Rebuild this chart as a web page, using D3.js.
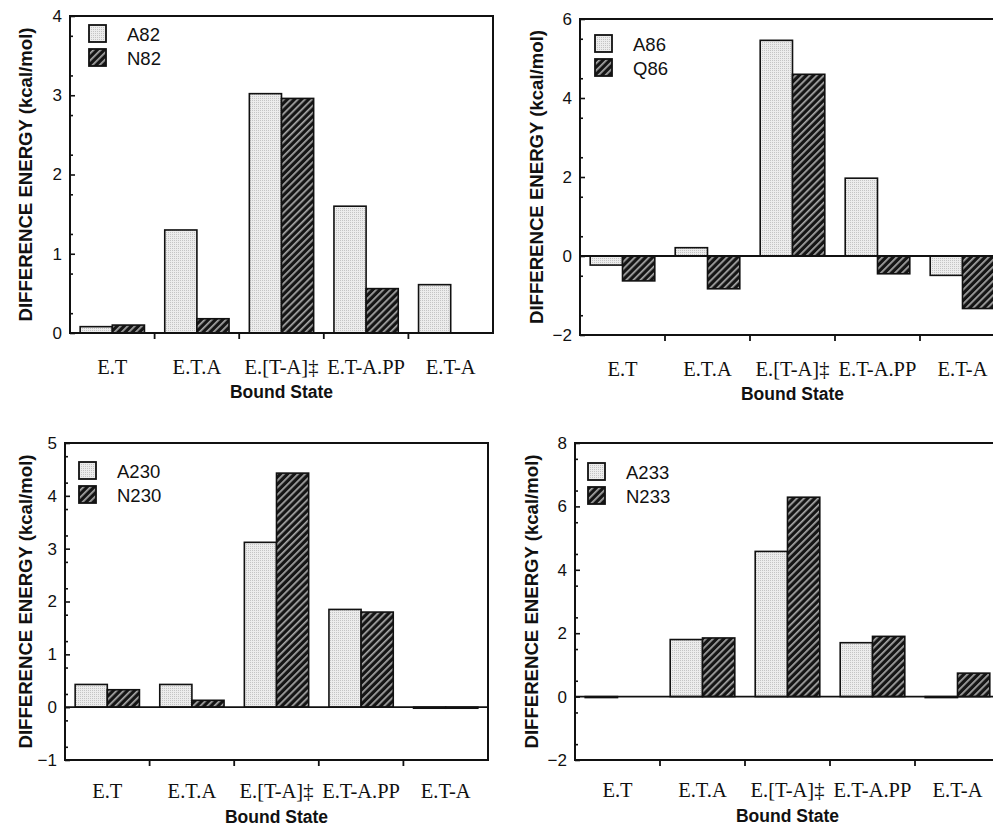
<!DOCTYPE html>
<html>
<head>
<meta charset="utf-8">
<script src="https://cdn.jsdelivr.net/npm/d3@7"></script>
<style>
  body { margin: 0; background: #fff; }
  svg { display: block; }
</style>
</head>
<body>
<svg id="fig" width="993" height="826"></svg>
<script>
// bound states on the x axis
var categories = ["E.T", "E.T.A", "E.[T-A]\u2021", "E.T-A.PP", "E.T-A"];

// difference energies, kcal/mol
var a82 = [0.08, 1.30, 3.02, 1.60, 0.61];
var n82 = [0.10, 0.18, 2.96, 0.56, 0];
var a86 = [-0.23, 0.21, 5.46, 1.97, -0.49];
var q86 = [-0.63, -0.83, 4.60, -0.45, -1.33];
var a230 = [0.43, 0.43, 3.12, 1.85, -0.02];
var n230 = [0.33, 0.13, 4.43, 1.80, -0.02];
var a233 = [-0.03, 1.80, 4.58, 1.70, -0.03];
var n233 = [0, 1.85, 6.29, 1.90, 0.74];

// y tick labels per panel
var ticks82 = [0, 1, 2, 3, 4];
var ticks86 = [-2, 0, 2, 4, 6];
var ticks230 = [-1, 0, 1, 2, 3, 4, 5];
var ticks233 = [-2, 0, 2, 4, 6, 8];

var panels = [
    { names: ["A82", "N82"], values: [a82, n82], ticks: ticks82, minor: 0.5,
      left: 70, right: 493, top: 16, bottom: 333, leg: [19, 9], titleX: 32, labPad: 26, bsY: 65 },
    { names: ["A86", "Q86"], values: [a86, q86], ticks: ticks86, minor: 1,
      left: 580, right: 1005, top: 19, bottom: 335, leg: [15, 16], titleX: 543, labPad: 26, bsY: 65 },
    { names: ["A230", "N230"], values: [a230, n230], ticks: ticks230, minor: 0.5,
      left: 65, right: 488, top: 443, bottom: 760, leg: [14, 19], titleX: 32, labPad: 23, bsY: 63 },
    { names: ["A233", "N233"], values: [a233, n233], ticks: ticks233, minor: 1,
      left: 575, right: 1000, top: 443, bottom: 760, leg: [13, 20], titleX: 538, labPad: 22, bsY: 62 }
];

var svg = d3.select("#fig");
var defs = svg.append("defs");

// light stippled fill
var dots = defs.append("pattern")
    .attr("id", "dots")
    .attr("patternUnits", "userSpaceOnUse")
    .attr("width", 2).attr("height", 2);
dots.append("rect").attr("width", 2).attr("height", 2).attr("fill", "#ececec");
dots.append("rect").attr("width", 1).attr("height", 1).attr("fill", "#c4c4c4");

// dark hatched fill
var hatch = defs.append("pattern")
    .attr("id", "hatch")
    .attr("patternUnits", "userSpaceOnUse")
    .attr("width", 5).attr("height", 5)
    .attr("patternTransform", "rotate(45)");
hatch.append("rect").attr("width", 5).attr("height", 5).attr("fill", "#151515");
hatch.append("rect").attr("width", 1.7).attr("height", 5).attr("fill", "#a8a8a8");

var fills = ["url(#dots)", "url(#hatch)"];

panels.forEach(function(p) {
    var g = svg.append("g");
    var W = p.right - p.left, H = p.bottom - p.top;
    var lo = d3.min(p.ticks), hi = d3.max(p.ticks);

    var x = d3.scaleBand().domain(categories)
        .range([p.left, p.right])
        .paddingInner(0.24).paddingOuter(0.12);
    var xs = d3.scaleBand().domain([0, 1]).range([0, x.bandwidth()]);
    var y = d3.scaleLinear().domain([lo, hi]).range([p.bottom, p.top]);
    var step = x.step(), gap = (step - x.bandwidth()) / 2;

    // bars
    p.values.forEach(function(vals, si) {
        g.selectAll(null)
            .data(vals)
            .enter()
            .append("rect")
            .attr("x", function(d, i) { return x(categories[i]) + xs(si); })
            .attr("width", xs.bandwidth())
            .attr("y", function(d) { return y(Math.max(0, d)); })
            .attr("height", function(d) { return Math.abs(y(d) - y(0)); })
            .attr("fill", fills[si])
            .attr("stroke", "#111")
            .attr("stroke-width", 1.6);
    });

    // zero line
    g.append("line")
        .attr("x1", p.left).attr("x2", p.right)
        .attr("y1", y(0)).attr("y2", y(0))
        .attr("stroke", "#111").attr("stroke-width", 1.8);

    // frame
    g.append("rect")
        .attr("x", p.left).attr("y", p.top)
        .attr("width", W).attr("height", H)
        .attr("fill", "none").attr("stroke", "#111").attr("stroke-width", 2);

    // y axis, major + minor
    var yAx = g.append("g").attr("transform", "translate(" + p.left + ",0)")
        .call(d3.axisLeft(y).tickValues(p.ticks).tickSize(-5).tickPadding(8)
            .tickFormat(d3.format("d")));
    yAx.select(".domain").remove();
    yAx.selectAll("line").attr("stroke", "#111").attr("stroke-width", 1.6);
    yAx.selectAll("text")
        .style("font-family", "Liberation Sans, Arial, sans-serif")
        .style("font-size", "17px").attr("fill", "#111");

    var minorVals = d3.range(lo, hi, p.minor).map(function(v) { return v + p.minor / 2; })
        .filter(function(v) { return p.ticks.indexOf(v) < 0; });
    var yMin = g.append("g").attr("transform", "translate(" + p.left + ",0)")
        .call(d3.axisLeft(y).tickValues(minorVals).tickSize(-3).tickFormat(""));
    yMin.select(".domain").remove();
    yMin.selectAll("line").attr("stroke", "#111").attr("stroke-width", 1.6);

    // x axis labels at band centres
    var xAx = g.append("g").attr("transform", "translate(0," + p.bottom + ")")
        .call(d3.axisBottom(x).tickSize(0).tickPadding(p.labPad));
    xAx.select(".domain").remove();
    xAx.selectAll("text")
        .style("font-family", "Liberation Serif, Times New Roman, serif")
        .style("font-size", "20.5px").attr("fill", "#111");

    // x ticks on band boundaries
    g.selectAll(null)
        .data(categories.slice(1))
        .enter()
        .append("line")
        .attr("x1", function(c) { return x(c) - gap; })
        .attr("x2", function(c) { return x(c) - gap; })
        .attr("y1", p.bottom).attr("y2", p.bottom + 6)
        .attr("stroke", "#111").attr("stroke-width", 1.8);

    // titles
    g.append("text")
        .attr("x", (p.left + p.right) / 2)
        .attr("y", p.bottom + p.bsY)
        .attr("text-anchor", "middle")
        .style("font-family", "Liberation Sans, Arial, sans-serif")
        .style("font-weight", "bold").style("font-size", "17.5px")
        .attr("fill", "#111")
        .text("Bound State");

    g.append("text")
        .attr("transform", "translate(" + p.titleX + "," + ((p.top + p.bottom) / 2) + ") rotate(-90)")
        .attr("text-anchor", "middle")
        .attr("textLength", 294)
        .attr("lengthAdjust", "spacingAndGlyphs")
        .style("font-family", "Liberation Sans, Arial, sans-serif")
        .style("font-weight", "bold").style("font-size", "18.5px")
        .attr("fill", "#111")
        .text("DIFFERENCE ENERGY (kcal/mol)");

    // legend
    var lg = g.append("g")
        .attr("transform", "translate(" + (p.left + p.leg[0]) + "," + (p.top + p.leg[1]) + ")");
    p.names.forEach(function(n, si) {
        lg.append("rect")
            .attr("x", 0).attr("y", si * 24)
            .attr("width", 17).attr("height", 17)
            .attr("fill", fills[si])
            .attr("stroke", "#111").attr("stroke-width", 1.8);
        lg.append("text")
            .attr("x", 38).attr("y", si * 24 + 16)
            .style("font-family", "Liberation Sans, Arial, sans-serif")
            .style("font-size", "18.5px").attr("fill", "#111")
            .text(n);
    });
});
</script>
</body>
</html>
